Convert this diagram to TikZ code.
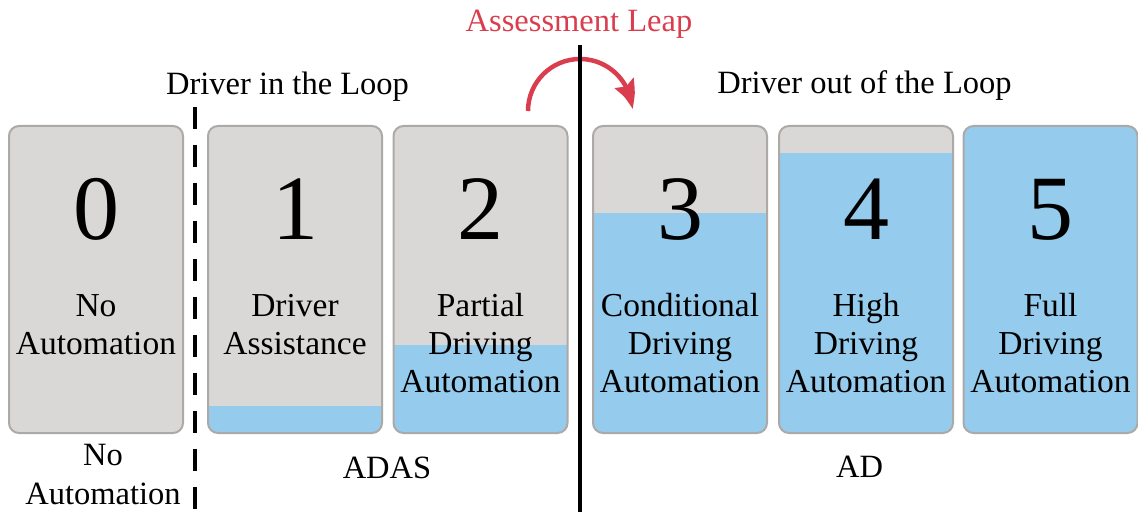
\documentclass[tikz,border=0pt]{standalone}
\usepackage{fontspec}
\setmainfont{Liberation Serif}
\usetikzlibrary{arrows.meta,bending}
\definecolor{boxgray}{HTML}{DAD8D7}
\definecolor{boxblue}{HTML}{95CBEC}
\definecolor{boxedge}{HTML}{ADA9A7}
\definecolor{leapred}{HTML}{DA3E4E}
\begin{document}
\begin{tikzpicture}[x=1pt,y=1pt,
  stage/.style={draw=boxedge, line width=2pt, fill=boxgray, rounded corners=10pt,
    minimum width=174pt, minimum height=307pt, inner sep=0pt,
    path picture={\fill[boxblue, sharp corners] (path picture bounding box.south west) rectangle ([yshift=#1]path picture bounding box.south east);}},
  digit/.style={font=\fontsize{92}{92}\selectfont, anchor=base, inner sep=0pt},
  boxtext/.style={font=\fontsize{33.5}{38}\selectfont, anchor=base, inner sep=0pt},
  caption/.style={font=\fontsize{32.5}{39}\selectfont, anchor=base, inner sep=0pt},
  divider/.style={line width=4pt, black}
]
\useasboundingbox (0,0) rectangle (1138,512);

% level boxes
\node[stage=0pt]   (b0) at (96,232.5)   {};
\node[stage=27pt]  (b1) at (295,232.5)  {};
\node[stage=88pt]  (b2) at (480.5,232.5){};
\node[stage=220pt] (b3) at (680,232.5)  {};
\node[stage=280pt] (b4) at (866,232.5)  {};
\node[stage=320pt] (b5) at (1050.5,232.5){};

% digits
\node[digit] (d0) at (96,272)    {0};
\node[digit] (d1) at (295,272)   {1};
\node[digit] (d2) at (480.5,272) {2};
\node[digit] (d3) at (680,272)   {3};
\node[digit] (d4) at (866,272)   {4};
\node[digit] (d5) at (1050.5,272){5};

% labels
\node[boxtext] (l0) at (96,195)    {\begin{tabular}[t]{@{}c@{}}No\\Automation\end{tabular}};
\node[boxtext] (l1) at (295,195)   {\begin{tabular}[t]{@{}c@{}}Driver\\Assistance\end{tabular}};
\node[boxtext] (l2) at (480.5,195) {\begin{tabular}[t]{@{}c@{}}Partial\\Driving\\Automation\end{tabular}};
\node[boxtext] (l3) at (680,195)   {\begin{tabular}[t]{@{}c@{}}Conditional\\Driving\\Automation\end{tabular}};
\node[boxtext] (l4) at (866,195)   {\begin{tabular}[t]{@{}c@{}}High\\Driving\\Automation\end{tabular}};
\node[boxtext] (l5) at (1050.5,195){\begin{tabular}[t]{@{}c@{}}Full\\Driving\\Automation\end{tabular}};

% headings
\node[caption] (inloop)  at (287.5,417) {Driver in the Loop};
\node[caption] (outloop) at (864.5,418) {Driver out of the Loop};
\node[caption, text=leapred] (leap) at (579,480) {Assessment Leap};

% bottom groups
\node[caption] (noauto) at (103,47) {\begin{tabular}[t]{@{}c@{}}No\\Automation\end{tabular}};
\node[caption] (adas) at (387,34) {ADAS};
\node[caption] (ad)   at (859.5,35) {AD};

% dividers
\coordinate (dashtop) at (195,405);
\coordinate (dashbot) at (195,0);
\coordinate (soltop) at (580,467);
\coordinate (solbot) at (580,0);
\draw[divider, dash pattern=on 22pt off 16pt] (dashtop) -- (dashbot);

% leap arrow
\coordinate (arcstart) at (528,401);
\draw[leapred, line width=4.5pt, -{Stealth[length=28pt,width=21pt,inset=4pt,bend]}]
  (arcstart) arc[start angle=180, end angle=2, radius=52];

\draw[divider] (soltop) -- (solbot);
\end{tikzpicture}
\end{document}
